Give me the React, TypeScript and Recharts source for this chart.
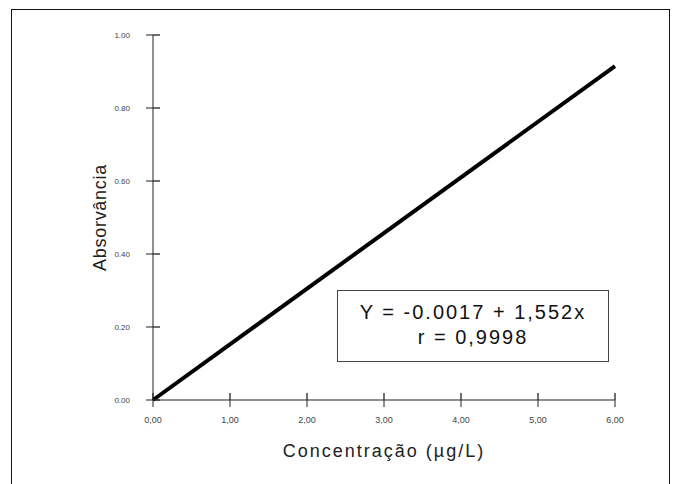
import { LineChart, Line, XAxis, YAxis } from 'recharts';

// calibration curve
const concentracao = [0, 6];
const absorvancia = [0, 0.915];
const xTicks = [0, 1, 2, 3, 4, 5, 6];
const yTicks = [0, 0.2, 0.4, 0.6, 0.8, 1.0];
const equacao = 'Y = -0.0017 + 1,552x';
const coefR = 'r = 0,9998';

const data = concentracao.map((c, i) => ({ c, a: absorvancia[i] }));

const FONT = '"Liberation Sans", Arial, Helvetica, sans-serif';
const TICK_SIZE = 7;

const YTick = (props: any) => {
  const { x, y, payload } = props;
  const axisX = x + TICK_SIZE + 16;
  return (
    <g>
      <line x1={axisX} x2={axisX + TICK_SIZE} y1={y} y2={y} stroke="#222" strokeWidth={1.3} />
      <text x={x} y={y} dy={3} textAnchor="end" fontSize={8} fill="#444" fontFamily={FONT}>
        {payload.value.toFixed(2)}
      </text>
    </g>
  );
};

const XTick = (props: any) => {
  const { x, y, payload } = props;
  const axisY = y - TICK_SIZE - 8;
  return (
    <g>
      <line x1={x} x2={x} y1={axisY - TICK_SIZE} y2={axisY} stroke="#222" strokeWidth={1.3} />
      <text x={x} y={y} dy={8} textAnchor="middle" fontSize={9} fill="#444" fontFamily={FONT}>
        {payload.value.toFixed(2).replace('.', ',')}
      </text>
    </g>
  );
};

export default function App() {
  return (
    <div style={{ position: 'absolute', left: 0, top: 0, width: 675, height: 484, background: '#fff', overflow: 'hidden' }}>
      {/* outer frame, bottom edge is cut off */}
      <div
        style={{
          position: 'absolute', left: 11, top: 9, width: 659, height: 500,
          border: '1.5px solid #111', boxSizing: 'border-box',
        }}
      />
      <LineChart
        width={675}
        height={484}
        data={data}
        margin={{ top: 35, right: 60, bottom: 54, left: 93 }}
        style={{ position: 'absolute', left: 0, top: 0 }}
      >
        <XAxis
          dataKey="c"
          type="number"
          domain={[0, 6]}
          ticks={xTicks}
          height={30}
          tickSize={TICK_SIZE}
          tickMargin={8}
          stroke="#222"
          tick={<XTick />}
          label={{ value: 'Concentração (µg/L)', position: 'insideBottom', offset: -27, fontSize: 18, fill: '#222', fontFamily: FONT, style: { letterSpacing: 2 } }}
        />
        <YAxis
          type="number"
          domain={[0, 1]}
          ticks={yTicks}
          width={60}
          tickSize={TICK_SIZE}
          tickMargin={16}
          stroke="#222"
          tick={<YTick />}
          label={{ value: 'Absorvância', angle: -90, position: 'insideLeft', offset: 0, dx: 7, fontSize: 18, fill: '#222', fontFamily: FONT, style: { textAnchor: 'middle', letterSpacing: 0.7 } }}
        />
        <Line
          dataKey="a"
          type="linear"
          stroke="#000"
          strokeWidth={4}
          dot={false}
          isAnimationActive={false}
        />
      </LineChart>
      <div
        style={{
          position: 'absolute', left: 337, top: 290, width: 272, height: 72,
          border: '1px solid #444', boxSizing: 'border-box',
          fontFamily: FONT, fontSize: 20, letterSpacing: 2, color: '#111', textAlign: 'center',
          lineHeight: '25px', paddingTop: 9,
        }}
      >
        <div>{equacao}</div>
        <div>{coefR}</div>
      </div>
    </div>
  );
}
